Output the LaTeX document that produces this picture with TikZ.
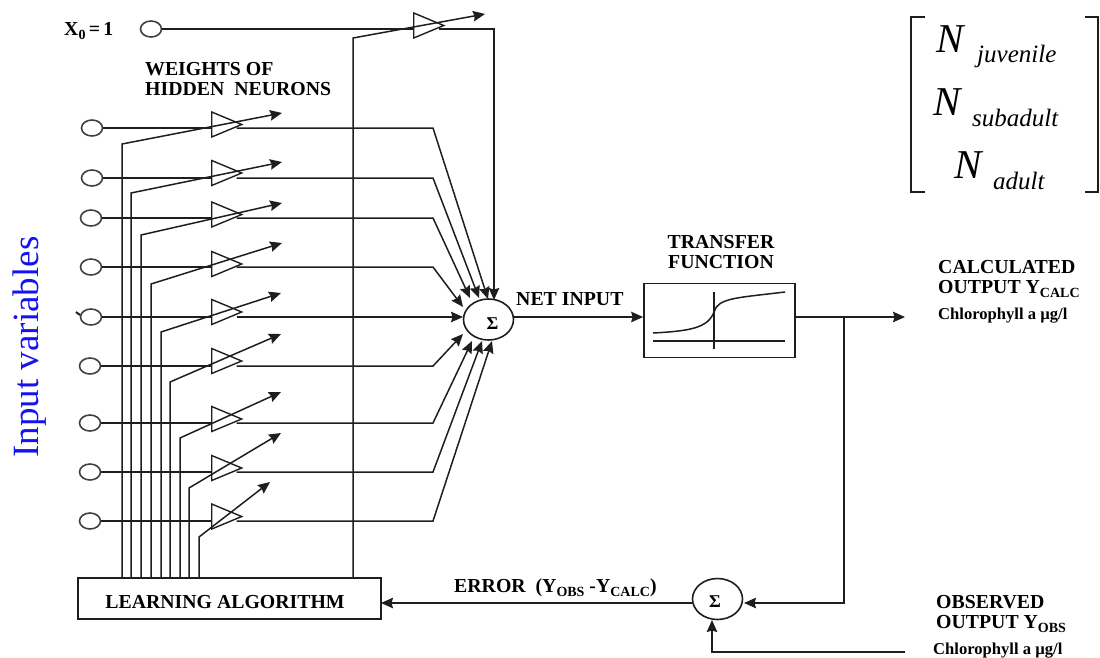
\documentclass[tikz,border=0pt]{standalone}
\usepackage{fontspec}
\setmainfont{Liberation Serif}
\usepackage{tikz}
\usetikzlibrary{arrows.meta, calc, positioning, shapes.geometric}
\definecolor{inkdk}{HTML}{1E1E1E}
\definecolor{inputblue}{HTML}{1414F0}
\tikzset{
  wire/.style    = {draw=inkdk, line width=1.5pt},
  wirearr/.style = {wire, -{Stealth[length=12pt, width=10.5pt, inset=1.5pt]}},
  outarr/.style  = {wirearr, shorten <=-7pt},
  invar/.style   = {ellipse, draw=inkdk!85, line width=1.6pt, minimum width=21pt,
                    minimum height=16pt, inner sep=0pt},
  gate/.style    = {isosceles triangle, isosceles triangle stretches, shape border rotate=0,
                    draw=inkdk, line width=1.4pt, minimum width=25pt, minimum height=30pt,
                    inner sep=0pt, anchor=lower side},
  sumnode/.style = {ellipse, draw=inkdk, line width=1.6pt, minimum width=50pt,
                    minimum height=41pt, inner sep=0pt},
  boxnode/.style = {rectangle, draw=inkdk, line width=1.7pt, inner sep=0pt},
  lab/.style     = {font=\bfseries\fontsize{19.8}{20}\selectfont, inner sep=0pt, anchor=west, align=left},
  smalllab/.style = {font=\bfseries\fontsize{16.6}{18}\selectfont, inner sep=0pt, anchor=west},
  sumlab/.style  = {font=\bfseries\fontsize{18}{18}\selectfont, inner sep=0pt},
  bigN/.style    = {font=\itshape\fontsize{41}{41}\selectfont, inner sep=0pt, anchor=base west},
  subN/.style    = {font=\itshape\fontsize{25}{25}\selectfont, inner sep=0pt, anchor=base west},
  brack/.style   = {draw=inkdk, line width=2pt},
}
\newcommand{\subt}[1]{\raisebox{-3.5pt}{\fontsize{14}{14}\selectfont #1}}
\newcommand{\hiddenrow}[8]{%
  \node[invar] (i#1) at (#2,#3) {};
  \node[gate] (g#1) at (211,#4) {};
  \coordinate (k#1) at (#5,#6);
  \coordinate (e#1) at (#7,#8);
  \draw[wire] (i#1.east) -- (i#1 -| g#1.lower side);
  \draw[wirearr] (k#1 |- learn.north) -- (k#1) -- (e#1);}

\begin{document}
\begin{tikzpicture}[x=1pt, y=-1pt]
  \useasboundingbox (0,0) rectangle (1100,657);
  \node[boxnode, minimum width=303pt, minimum height=41pt] (learn) at (229.5,598.5) {};
  \node[lab, anchor=center] (learntext) at (225,602) {LEARNING ALGORITHM};
  \node[sumnode] (sumA) at (488.5,319.5) {};
  \node[sumlab] (sigA) at (492.5,323.5) {Σ};
  \node[sumnode] (sumB) at (717.5,599) {};
  \node[sumlab] (sigB) at (715,602) {Σ};
  \node[boxnode, minimum width=151pt, minimum height=74pt] (transfer) at (719.5,320.5) {};
  % arrow ends round the net input
  \coordinate (t0) at (494,300);
  \coordinate (t1) at (488,299);
  \coordinate (t2) at (479,298);
  \coordinate (t3) at (470,298);
  \coordinate (t4) at (463,307);
  \coordinate (t5) at (463,317);
  \coordinate (t6) at (463,334);
  \coordinate (t7) at (472,341);
  \coordinate (t8) at (482,341);
  \coordinate (t9) at (492,341);
  \coordinate (kneeline) at (433,0);
  % input row and top bias
  \node[invar] (i0) at (151,29) {};
  \node[gate] (g0) at (413,25.5) {};
  \coordinate (k0) at (353,38);
  \coordinate (e0) at (485,14);
  \draw[wire] (i0.east) -- (i0 -| g0.lower side);
  \draw[wirearr] (k0 |- learn.north) -- (k0) -- (e0);
  \draw[outarr] (g0.apex |- i0) -- (i0 -| t0) -- (t0);
  \hiddenrow{1}{92}{128}{124.5}{122}{144}{282}{113}
  \hiddenrow{2}{92}{178}{173}{131}{193}{282}{162}
  \hiddenrow{3}{91}{218}{214.5}{141}{235}{282}{203}
  \hiddenrow{4}{91}{267}{264}{151}{284}{282}{243}
  \hiddenrow{5}{91}{317}{312}{161}{332}{281}{293}
  \hiddenrow{6}{90}{366}{361}{170}{382}{281}{334}
  \hiddenrow{7}{90}{423}{419}{180}{438}{281}{392}
  \hiddenrow{8}{90}{472}{468}{189}{488}{281}{433}
  \hiddenrow{9}{90}{521}{516.5}{199}{537}{270}{482}
  \draw[outarr] (g1.apex |- i1) -- (i1 -| kneeline) -- (t1);
  \draw[outarr] (g2.apex |- i2) -- (i2 -| kneeline) -- (t2);
  \draw[outarr] (g3.apex |- i3) -- (i3 -| kneeline) -- (t3);
  \draw[outarr] (g4.apex |- i4) -- (i4 -| kneeline) -- (t4);
  \draw[outarr] (g5.apex |- i5) -- (t5);
  \draw[outarr] (g6.apex |- i6) -- (i6 -| kneeline) -- (t6);
  \draw[outarr] (g7.apex |- i7) -- (i7 -| kneeline) -- (t7);
  \draw[outarr] (g8.apex |- i8) -- (i8 -| kneeline) -- (t8);
  \draw[outarr] (g9.apex |- i9) -- (i9 -| kneeline) -- (t9);
  \draw[line width=2pt, draw=inkdk] (76,312) -- (80,315);
  % output side
  \coordinate (netin) at (transfer.west |- t5);
  \coordinate (calc) at (905,317);
  \coordinate (branch) at (844,317);
  \coordinate (fbend) at (844,603);
  \coordinate (fend) at (744,603);
  \coordinate (obsend) at (905,652);
  \coordinate (obsbend) at (712,652);
  \coordinate (obstip) at (712,620);
  \coordinate (errstart) at (692,603);
  \coordinate (errend) at (381,603);
  \draw[wirearr] (sumA.east |- t5) -- (netin);
  \draw[wirearr] (transfer.east |- calc) -- (calc);
  \draw[wirearr] (branch) -- (fbend) -- (fend);
  \draw[wirearr] (obsend) -- (obsbend) -- (obstip);
  \draw[wirearr] (errstart) -- (errend);
  % transfer curve
  \draw[wire] (653,333) .. controls (690,331) and (708,328) .. (714,312)
    .. controls (718,298) and (735,298) .. (785,292);
  \draw[wire] (714,292) -- (714,349);
  \draw[wire] (653,341) -- (785,341);
  % labels
  \node[lab] (xzero) at (64,31) {X\subt{0}\,=\,1};
  \node[lab] (weights) at (145,79) {WEIGHTS OF\\HIDDEN\ \ NEURONS};
  \node[lab, align=center, anchor=center] (transfertitle) at (721,252) {TRANSFER\\FUNCTION};
  \node[lab] (netinput) at (516,299) {NET INPUT};
  \node[lab] (calctitle) at (938,279) {CALCULATED\\OUTPUT Y\subt{CALC}};
  \node[smalllab] (calcunit) at (938,316) {Chlorophyll a µg/l};
  \node[lab] (errortitle) at (454,588) {ERROR\ \ (Y\subt{OBS} -Y\subt{CALC})};
  \node[lab] (obstitle) at (936,614) {OBSERVED\\OUTPUT Y\subt{OBS}};
  \node[smalllab] (obsunit) at (933,651) {Chlorophyll a µg/l};
  \node[font=\fontsize{37}{37}\selectfont, text=inputblue, inner sep=0pt, rotate=90] (inputs) at (30,347) {Input variables};
  % vector
  \draw[brack] (925,17) -- (911,17) -- (911,192) -- (925,192);
  \draw[brack] (1085,17) -- (1098,17) -- (1098,192) -- (1085,192);
  \node[bigN] (nJuv) at (936,52) {N};
  \node[subN] (sJuv) at (977,62) {juvenile};
  \node[bigN] (nSub) at (933,115) {N};
  \node[subN] (sSub) at (972,126) {subadult};
  \node[bigN] (nAdu) at (954,178) {N};
  \node[subN] (sAdu) at (993,189) {adult};
\end{tikzpicture}
\end{document}
